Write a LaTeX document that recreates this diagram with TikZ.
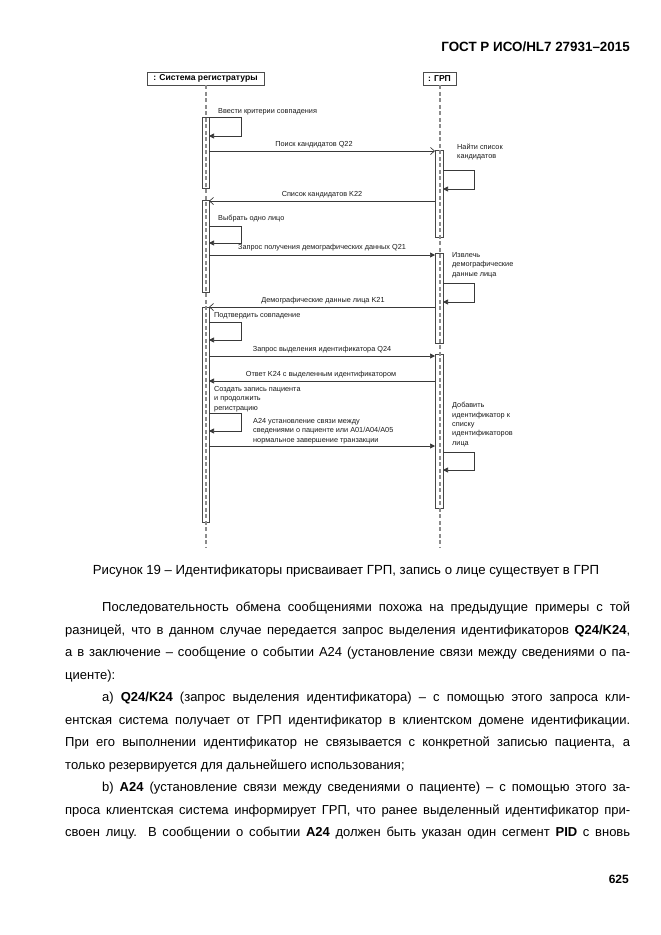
\documentclass[tikz,border=0pt]{standalone}
\usepackage{fontspec}
\setmainfont{Liberation Sans}
\usetikzlibrary{arrows.meta}
\begin{document}
\begin{tikzpicture}[x=1pt,y=-1pt,
  lbl/.style={font=\fontsize{7.3}{9.4}\selectfont, inner sep=0pt, text=black!90, align=left},
  obj/.style={draw=gray!60!black, line width=0.7pt, fill=white, font=\bfseries\fontsize{8.6}{10}\selectfont, minimum height=13pt, inner sep=0pt},
  life/.style={draw=black!45, line width=2pt, dash pattern=on 4pt off 2.5pt},
  act/.style={draw=gray!55!black, line width=0.7pt},
  msg/.style={draw=gray!45!black, line width=0.7pt},
  fa/.style={-{Triangle[length=5pt,width=5pt]}},
  oa/.style={-{Straight Barb[length=4pt,width=7pt]}},
  body/.style={font=\fontsize{13}{15}\selectfont, inner sep=0pt, anchor=base west},
]
\useasboundingbox (0,0) rectangle (661,935);

% header and page number
\node[anchor=east, inner sep=0pt, font=\bfseries\fontsize{13.4}{15}\selectfont] (hdr) at (630,47) {ГОСТ Р ИСО/HL7 27931–2015};
\node[anchor=east, inner sep=0pt, font=\bfseries\fontsize{12}{14}\selectfont] (pg) at (629,879) {625};

% objects
\node[obj, minimum width=117pt] (reg) at (205.5,78.5) {: Система регистратуры};
\node[obj, minimum width=33pt] (grp) at (439.5,78.5) {: ГРП};

% lifeline ends
\coordinate (regend) at (205.5,547);
\coordinate (grpend) at (439.5,547);

% activation bars
\foreach \a/\b in {117/188, 200/292, 307/522}
  \draw[act] (202,\a) rectangle (209,\b);
\foreach \a/\b in {150/237, 253/343, 354/508}
  \draw[act] (435,\a) rectangle (443,\b);

\draw[life] (reg.south) -- (regend);
\draw[life] (grp.south) -- (grpend);

% message endpoints
\coordinate (q22s) at (209,151);  \coordinate (q22e) at (435,151);
\coordinate (k22s) at (435,201);  \coordinate (k22e) at (209,201);
\coordinate (q21s) at (209,255);  \coordinate (q21e) at (435,255);
\coordinate (k21s) at (435,307);  \coordinate (k21e) at (209,307);
\coordinate (q24s) at (209,356);  \coordinate (q24e) at (435,356);
\coordinate (k24s) at (435,381);  \coordinate (k24e) at (209,381);
\coordinate (a24s) at (209,446);  \coordinate (a24e) at (435,446);

\draw[msg,oa] (q22s) -- (q22e);
\draw[msg,oa] (k22s) -- (k22e);
\draw[msg,fa] (q21s) -- (q21e);
\draw[msg,oa] (k21s) -- (k21e);
\draw[msg,fa] (q24s) -- (q24e);
\draw[msg,fa] (k24s) -- (k24e);
\draw[msg,fa] (a24s) -- (a24e);

% self loops (left)
\foreach \n/\a/\b in {l1/117/136, l2/226/243, l3/322/340, l4/413/431}{
  \coordinate (\n s) at (209,\a); \coordinate (\n e) at (209,\b);
  \draw[msg,fa] (\n s) -- ++(32,0) |- (\n e);
}
% self loops (right)
\foreach \n/\a/\b in {r1/170/189, r2/283/302, r3/452/470}{
  \coordinate (\n s) at (443,\a); \coordinate (\n e) at (443,\b);
  \draw[msg,fa] (\n s) -- ++(31,0) |- (\n e);
}

% labels
\node[lbl, anchor=west] (t1) at (218,112) {Ввести критерии совпадения};
\node[lbl] (t2) at (314,145) {Поиск кандидатов Q22};
\node[lbl, anchor=west] (t3) at (457,152) {Найти список\\кандидатов};
\node[lbl] (t4) at (322,194.5) {Список кандидатов K22};
\node[lbl, anchor=west] (t5) at (218,219) {Выбрать одно лицо};
\node[lbl] (t6) at (322,248) {Запрос получения демографических данных Q21};
\node[lbl, anchor=west] (t7) at (452,265) {Извлечь\\демографические\\данные лица};
\node[lbl] (t8) at (323,300.5) {Демографические данные лица K21};
\node[lbl, anchor=west] (t9) at (214,316) {Подтвердить совпадение};
\node[lbl] (t10) at (322,349.5) {Запрос выделения идентификатора Q24};
\node[lbl] (t11) at (321,375) {Ответ K24 с выделенным идентификатором};
\node[lbl, anchor=west] (t12) at (214,399) {Создать запись пациента\\и продолжить\\регистрацию};
\node[lbl, anchor=west] (t13) at (253,431) {А24 установление связи между\\сведениями о пациенте или А01/А04/А05\\нормальное завершение транзакции};
\node[lbl, anchor=west] (t14) at (452,424.5) {Добавить\\идентификатор к\\списку\\идентификаторов\\лица};

% caption
\node[inner sep=0pt, font=\fontsize{13.2}{15}\selectfont] (cap) at (346,571) {Рисунок 19 – Идентификаторы присваивает ГРП, запись о лице существует в ГРП};

% body text
\node[body] (b1) at (102,611.5) {\makebox[528pt][s]{Последовательность обмена сообщениями похожа на предыдущие примеры с той}};
\node[body] (b2) at (65,634) {\makebox[565pt][s]{разницей, что в данном случае передается запрос выделения идентификаторов \textbf{Q24/K24},}};
\node[body] (b3) at (65,656.5) {\makebox[565pt][s]{а в заключение – сообщение о событии А24 (установление связи между сведениями о па-}};
\node[body] (b4) at (65,679) {циенте):};
\node[body] (b5) at (102,701.5) {\makebox[528pt][s]{a) \textbf{Q24/K24} (запрос выделения идентификатора) – с помощью этого запроса кли-}};
\node[body] (b6) at (65,724) {\makebox[565pt][s]{ентская система получает от ГРП идентификатор в клиентском домене идентификации.}};
\node[body] (b7) at (65,746.5) {\makebox[565pt][s]{При его выполнении идентификатор не связывается с конкретной записью пациента, а}};
\node[body] (b8) at (65,769) {только резервируется для дальнейшего использования;};
\node[body] (b9) at (102,791.5) {\makebox[528pt][s]{b) \textbf{A24} (установление связи между сведениями о пациенте) – с помощью этого за-}};
\node[body] (b10) at (65,814) {\makebox[565pt][s]{проса клиентская система информирует ГРП, что ранее выделенный идентификатор при-}};
\node[body] (b11) at (65,836.5) {\makebox[565pt][s]{своен лицу. В сообщении о событии \textbf{A24} должен быть указан один сегмент \textbf{PID} с вновь}};
\end{tikzpicture}
\end{document}
